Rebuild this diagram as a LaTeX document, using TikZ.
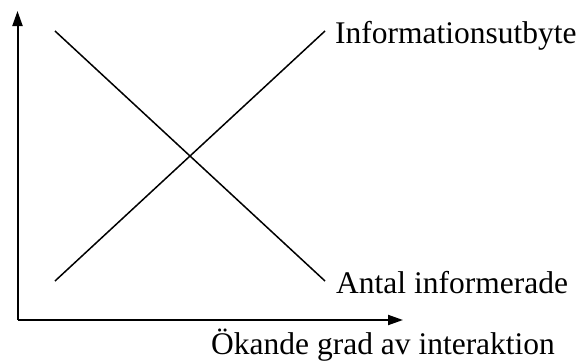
\documentclass[tikz,border=0pt]{standalone}
\usepackage{fontspec}
\setmainfont{Liberation Serif}
\usetikzlibrary{arrows.meta}
\begin{document}
\begin{tikzpicture}[x=1pt,y=-1pt,
  axis/.style={line width=2pt,-{Triangle[length=15pt,width=10pt]}},
  curve/.style={line width=1.5pt},
  lbl/.style={inner sep=0pt,anchor=base west,font=\fontsize{31.5}{38}\selectfont}]
\useasboundingbox (0,0) rectangle (579,362);
\coordinate (o) at (17.5,320);
\coordinate (ytop) at (17.5,11);
\coordinate (xend) at (403,320);
\draw[axis] (o) -- (ytop);
\draw[axis] (o) -- (xend);
\coordinate (a1) at (55,31);
\coordinate (a2) at (325,281);
\coordinate (b1) at (55,281);
\coordinate (b2) at (325,31);
\draw[curve] (a1) -- (a2);
\draw[curve] (b1) -- (b2);
\node[lbl] (info) at (335,43) {Informationsutbyte};
\node[lbl] (antal) at (336,293) {Antal informerade};
\node[lbl] (xlab) at (211,354.5) {Ökande grad av interaktion};
\end{tikzpicture}
\end{document}
